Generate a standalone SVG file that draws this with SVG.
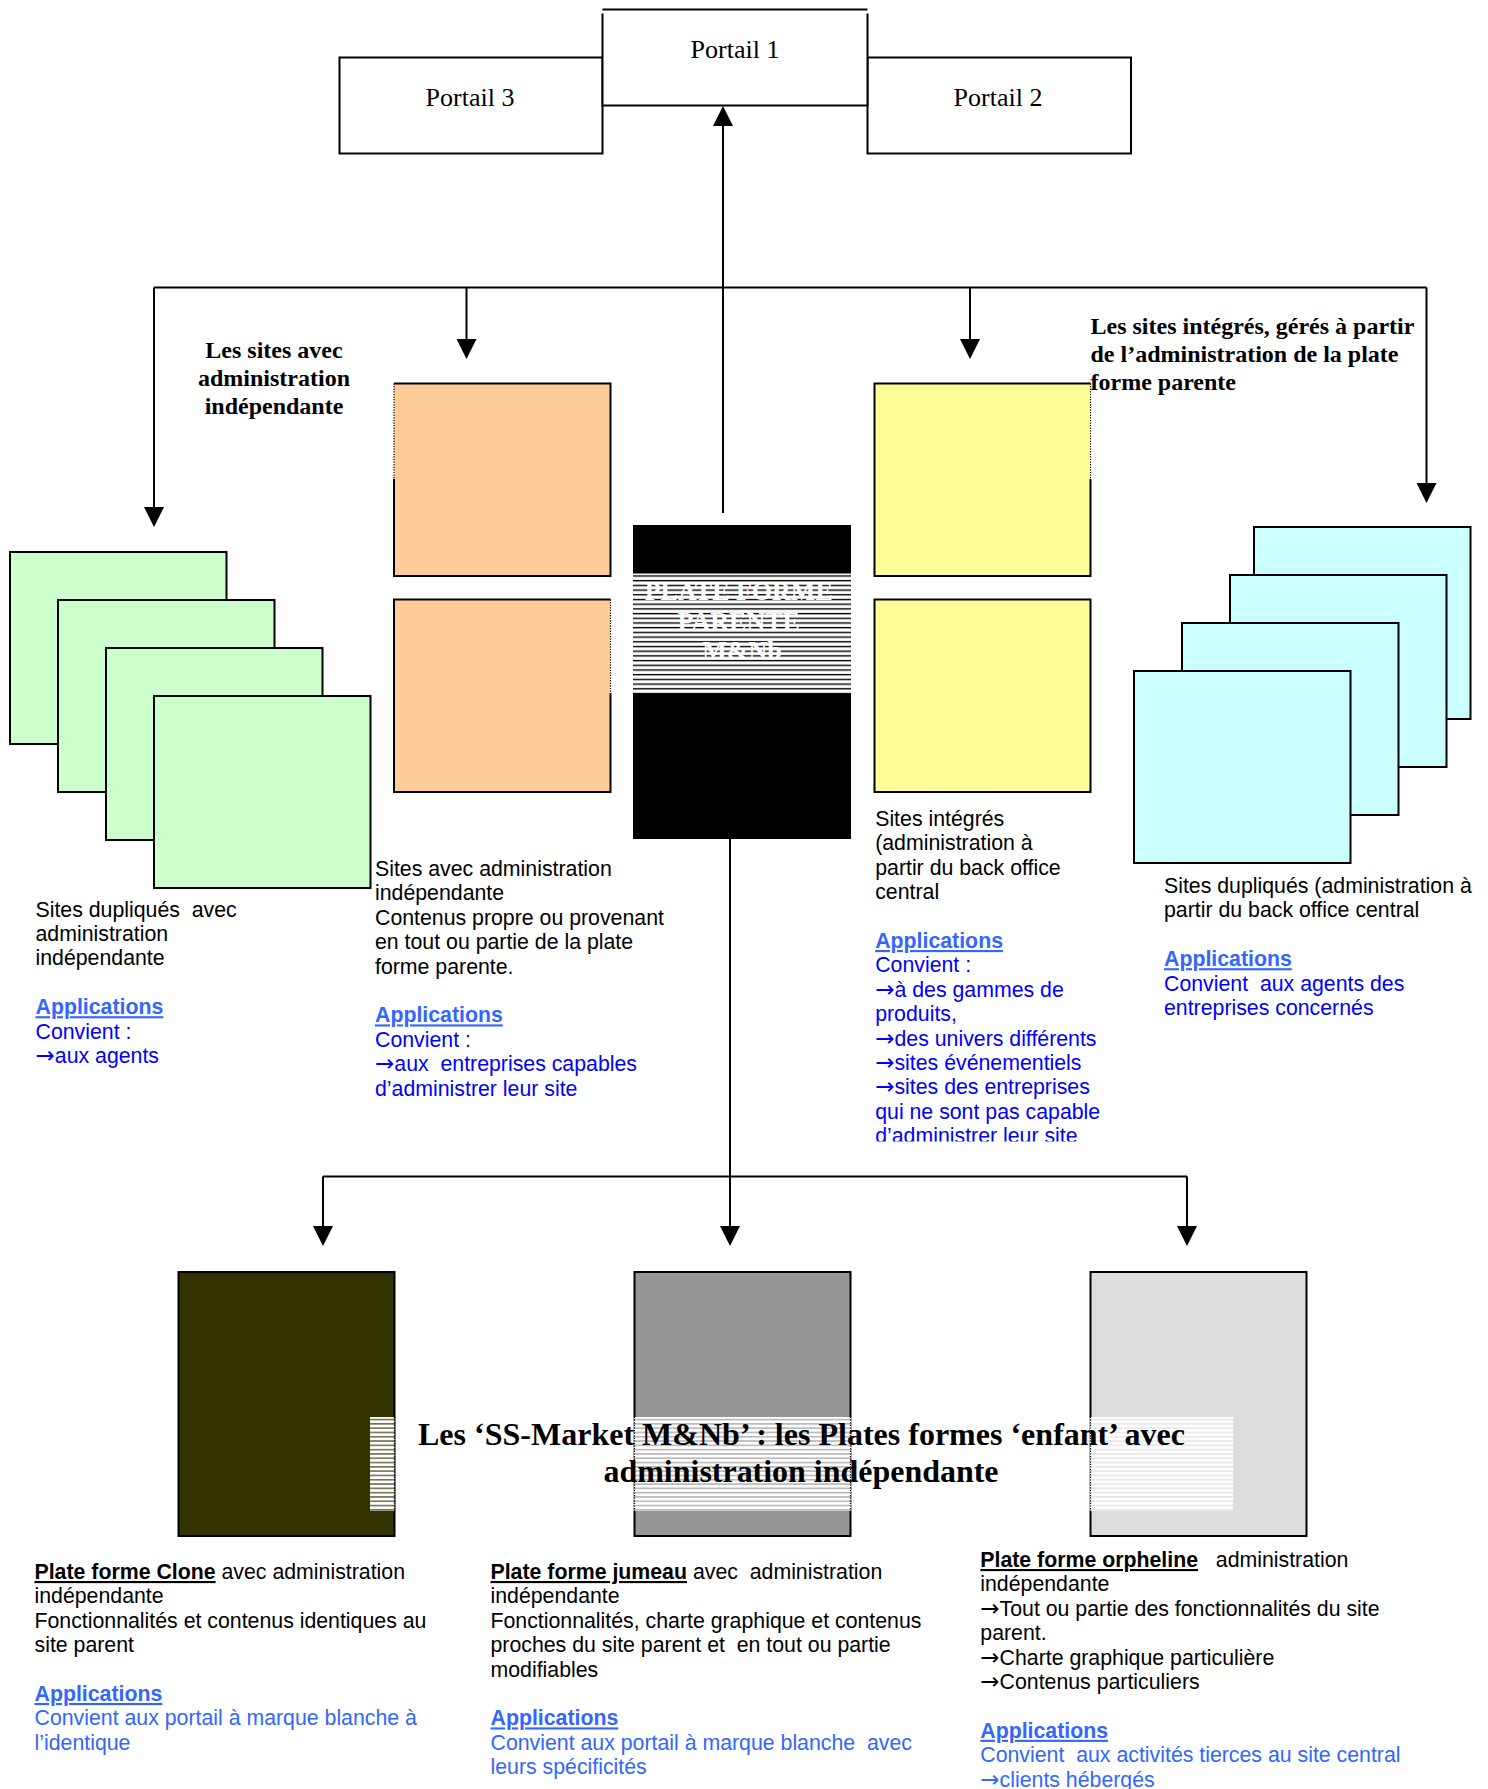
<svg xmlns="http://www.w3.org/2000/svg" width="1488" height="1789" viewBox="0 0 1488 1789">
<defs>
<style>
.box{stroke:#000;stroke-width:2}
.edge{stroke:#000;stroke-width:2;fill:none}
.dot{stroke:#000;stroke-width:1.2;stroke-dasharray:1.2 1.4;fill:none}
.portal{font-family:"Liberation Serif","Times New Roman",serif;font-size:26px;text-anchor:middle;fill:#000}
.heading{font-family:"Liberation Serif","Times New Roman",serif;font-size:24px;font-weight:bold;fill:#000;white-space:pre}
.ptitle{font-family:"Liberation Serif","Times New Roman",serif;font-size:26px;font-weight:bold;fill:#fff;text-anchor:middle}
.big{font-family:"Liberation Serif","Times New Roman",serif;font-size:31.8px;font-weight:bold;fill:#000;white-space:pre}
.sans{font-family:"Liberation Sans",Arial,sans-serif;font-size:21.3px;fill:#000;white-space:pre}
.ar{font-family:"DejaVu Sans",sans-serif;font-size:23px}
.blue{fill:#0000FF}
.lblue{fill:#3366FF}
.app{fill:#3366FF;font-weight:bold;text-decoration:underline}
.bu{font-weight:bold;text-decoration:underline}
.conn{stroke:#000;stroke-width:2;fill:none;marker-end:url(#arr)}
.line{stroke:#000;stroke-width:2;fill:none}
</style>
<marker id="arr" viewBox="0 0 20 20" refX="1" refY="10" markerWidth="20" markerHeight="20" markerUnits="userSpaceOnUse" orient="auto">
<path d="M0,0 L20,10 L0,20 z" fill="#000"/>
</marker>
<pattern id="stBlack" patternUnits="userSpaceOnUse" x="0" y="573.5" width="10" height="4.7">
<rect width="10" height="4.7" fill="#fff"/>
<rect y="1.8" width="10" height="1.4" fill="#000"/>
</pattern>
<pattern id="stOlive" patternUnits="userSpaceOnUse" x="0" y="1417" width="10" height="4.3">
<rect width="10" height="4.3" fill="#fff"/>
<rect y="2" width="10" height="1.1" fill="#333300"/>
</pattern>
<pattern id="stGrey" patternUnits="userSpaceOnUse" x="0" y="1417" width="10" height="4.3">
<rect width="10" height="4.3" fill="#fff"/>
<rect y="2" width="10" height="1.1" fill="#969696"/>
</pattern>
<pattern id="stLight" patternUnits="userSpaceOnUse" x="0" y="1417" width="10" height="4.3">
<rect width="10" height="4.3" fill="#fff"/>
<rect y="2" width="10" height="1.1" fill="#DDDDDD"/>
</pattern>
<clipPath id="clipC"><rect x="860" y="790" width="300" height="351.5"/></clipPath>
</defs>

<rect width="1488" height="1789" fill="#fff"/>

<!-- Portals -->
<g id="portail3">
<rect class="box" x="339.5" y="57.5" width="263" height="96" fill="#fff"/>
<text class="portal" x="470" y="105.5">Portail 3</text>
</g>
<g id="portail2">
<rect class="box" x="867.5" y="57.5" width="263.5" height="96" fill="#fff"/>
<text class="portal" x="998" y="105.5">Portail 2</text>
</g>
<g id="portail1">
<rect x="602.5" y="9.5" width="265" height="96" fill="#fff"/>
<path class="edge" d="M602.5,9.5 H867.5 M602.5,13.5 V105.5 H867.5 V13.5"/>
<text class="portal" x="735" y="58">Portail 1</text>
</g>

<!-- Connectors -->
<g id="connectors">
<path class="conn" d="M723,513 V125"/>
<path class="line" d="M154,287.5 H1426.5"/>
<path class="conn" d="M154,287.5 V508"/>
<path class="conn" d="M466.5,287.5 V340"/>
<path class="conn" d="M970,287.5 V340"/>
<path class="conn" d="M1426.5,287.5 V484"/>
<path class="line" d="M730,839 V1176.5"/>
<path class="line" d="M323,1176.5 H1187"/>
<path class="conn" d="M730,1176.5 V1227"/>
<path class="conn" d="M323,1176.5 V1227"/>
<path class="conn" d="M1187,1176.5 V1227"/>
</g>

<!-- Labels for groups -->
<g id="label-independent">
<text class="heading" text-anchor="middle">
<tspan x="277" y="358">Les sites avec</tspan>
<tspan x="277" y="386">administration</tspan>
<tspan x="277" y="414">indépendante</tspan>
</text>
</g>
<g id="label-integrated">
<text class="heading">
<tspan x="1090.5" y="334">Les sites intégrés, gérés à partir</tspan>
<tspan x="1090.5" y="362">de l’administration de la plate</tspan>
<tspan x="1090.5" y="390">forme parente</tspan>
</text>
</g>

<!-- Green stack -->
<g id="green-stack">
<rect class="box" x="10" y="552" width="216.5" height="192" fill="#CCFFCC"/>
<rect class="box" x="58" y="600" width="216.5" height="192" fill="#CCFFCC"/>
<rect class="box" x="106" y="648" width="216.5" height="192" fill="#CCFFCC"/>
<rect class="box" x="154" y="696" width="216.5" height="192" fill="#CCFFCC"/>
</g>

<!-- Orange boxes -->
<g id="orange-boxes">
<rect x="394" y="383.5" width="216.5" height="192.5" fill="#FFCC99"/>
<path class="edge" d="M394,479 V576 H610.5 V383.5 H394"/>
<path class="dot" d="M394,383.5 V479"/>
<rect x="394" y="599.5" width="216.5" height="192.5" fill="#FFCC99"/>
<path class="edge" d="M610.5,693 V792 H394 V599.5 H610.5"/>
<path class="dot" d="M610.5,599.5 V693"/>
</g>

<!-- Parent platform -->
<g id="parent">
<rect x="633" y="525" width="218" height="314" fill="#000"/>
<rect x="633" y="573.5" width="218" height="120" fill="url(#stBlack)"/>
<text class="ptitle">
<tspan x="742" y="600">PLATE FORME</tspan>
<tspan x="742" y="629.5">PARENTE</tspan>
<tspan x="742" y="659">M&amp;Nb</tspan>
</text>
</g>

<!-- Yellow boxes -->
<g id="yellow-boxes">
<rect x="874.5" y="383.5" width="216" height="192.5" fill="#FFFF99"/>
<path class="edge" d="M1090.5,479 V576 H874.5 V383.5 H1090.5"/>
<path class="dot" d="M1090.5,383.5 V479"/>
<rect class="box" x="874.5" y="599.5" width="216" height="192.5" fill="#FFFF99"/>
</g>

<!-- Cyan stack -->
<g id="cyan-stack">
<rect class="box" x="1254" y="527" width="216.5" height="192" fill="#CCFFFF"/>
<rect class="box" x="1230" y="575" width="216.5" height="192" fill="#CCFFFF"/>
<rect class="box" x="1182" y="623" width="216.5" height="192" fill="#CCFFFF"/>
<rect class="box" x="1134" y="671" width="216.5" height="192" fill="#CCFFFF"/>
</g>

<!-- Text blocks -->
<g id="text-green">
<text class="sans">
<tspan x="35.5" y="916.5">Sites dupliqués  avec</tspan>
<tspan x="35.5" y="941">administration</tspan>
<tspan x="35.5" y="965.4">indépendante</tspan>
<tspan x="35.5" y="1014.2" class="app">Applications</tspan>
<tspan x="35.5" y="1038.6" class="blue">Convient :</tspan>
<tspan x="35.5" y="1063" class="blue"><tspan class="ar">→</tspan>aux agents</tspan>
</text>
</g>
<g id="text-orange">
<text class="sans">
<tspan x="375" y="876">Sites avec administration</tspan>
<tspan x="375" y="900.4">indépendante</tspan>
<tspan x="375" y="924.8">Contenus propre ou provenant</tspan>
<tspan x="375" y="949.2">en tout ou partie de la plate</tspan>
<tspan x="375" y="973.6">forme parente.</tspan>
<tspan x="375" y="1022.4" class="app">Applications</tspan>
<tspan x="375" y="1046.8" class="blue">Convient :</tspan>
<tspan x="375" y="1071.2" class="blue"><tspan class="ar">→</tspan>aux  entreprises capables</tspan>
<tspan x="375" y="1095.6" class="blue">d’administrer leur site</tspan>
</text>
</g>
<g id="text-yellow" clip-path="url(#clipC)">
<text class="sans">
<tspan x="875.2" y="826">Sites intégrés</tspan>
<tspan x="875.2" y="850.4">(administration à</tspan>
<tspan x="875.2" y="874.8">partir du back office</tspan>
<tspan x="875.2" y="899.2">central</tspan>
<tspan x="875.2" y="948" class="app">Applications</tspan>
<tspan x="875.2" y="972.4" class="blue">Convient :</tspan>
<tspan x="875.2" y="996.8" class="blue"><tspan class="ar">→</tspan>à des gammes de</tspan>
<tspan x="875.2" y="1021.2" class="blue">produits,</tspan>
<tspan x="875.2" y="1045.6" class="blue"><tspan class="ar">→</tspan>des univers différents</tspan>
<tspan x="875.2" y="1070" class="blue"><tspan class="ar">→</tspan>sites événementiels</tspan>
<tspan x="875.2" y="1094.4" class="blue"><tspan class="ar">→</tspan>sites des entreprises</tspan>
<tspan x="875.2" y="1118.8" class="blue">qui ne sont pas capable</tspan>
<tspan x="875.2" y="1143.2" class="blue">d’administrer leur site</tspan>
</text>
</g>
<g id="text-cyan">
<text class="sans">
<tspan x="1164" y="893">Sites dupliqués (administration à</tspan>
<tspan x="1164" y="917.4">partir du back office central</tspan>
<tspan x="1164" y="966.2" class="app">Applications</tspan>
<tspan x="1164" y="990.6" class="blue">Convient  aux agents des</tspan>
<tspan x="1164" y="1015" class="blue">entreprises concernés</tspan>
</text>
</g>

<!-- Bottom platforms -->
<g id="clone">
<rect class="box" x="178.5" y="1272" width="216" height="264" fill="#333300"/>
<rect x="370" y="1417" width="24.5" height="94" fill="url(#stOlive)"/>
<path class="dot" d="M394.5,1417 V1511"/>
</g>
<g id="jumeau">
<rect class="box" x="634.5" y="1272" width="216" height="264" fill="#969696"/>
<rect x="633.5" y="1417" width="218" height="94" fill="url(#stGrey)"/>
<path class="dot" d="M634.5,1417 V1511 M850.5,1417 V1511"/>
</g>
<g id="orpheline">
<rect class="box" x="1090.5" y="1272" width="216" height="264" fill="#DDDDDD"/>
<rect x="1089.5" y="1417" width="143.5" height="94" fill="url(#stLight)"/>
<path class="dot" d="M1090.5,1417 V1511"/>
</g>

<g id="title-children">
<text class="big">
<tspan x="418" y="1445" textLength="767" lengthAdjust="spacingAndGlyphs">Les ‘SS-Market M&amp;Nb’ : les Plates formes ‘enfant’ avec</tspan>
<tspan x="603.5" y="1482" textLength="395" lengthAdjust="spacingAndGlyphs">administration indépendante</tspan>
</text>
</g>

<g id="text-clone">
<text class="sans">
<tspan x="34.5" y="1579"><tspan class="bu">Plate forme Clone</tspan> avec administration</tspan>
<tspan x="34.5" y="1603.4">indépendante</tspan>
<tspan x="34.5" y="1627.8">Fonctionnalités et contenus identiques au</tspan>
<tspan x="34.5" y="1652.2">site parent</tspan>
<tspan x="34.5" y="1701" class="app">Applications</tspan>
<tspan x="34.5" y="1725.4" class="lblue">Convient aux portail à marque blanche à</tspan>
<tspan x="34.5" y="1749.8" class="lblue">l’identique</tspan>
</text>
</g>
<g id="text-jumeau">
<text class="sans">
<tspan x="490.5" y="1579"><tspan class="bu">Plate forme jumeau</tspan> avec  administration</tspan>
<tspan x="490.5" y="1603.4">indépendante</tspan>
<tspan x="490.5" y="1627.8">Fonctionnalités, charte graphique et contenus</tspan>
<tspan x="490.5" y="1652.2">proches du site parent et  en tout ou partie</tspan>
<tspan x="490.5" y="1676.6">modifiables</tspan>
<tspan x="490.5" y="1725.4" class="app">Applications</tspan>
<tspan x="490.5" y="1749.8" class="lblue">Convient aux portail à marque blanche  avec</tspan>
<tspan x="490.5" y="1774.2" class="lblue">leurs spécificités</tspan>
</text>
</g>
<g id="text-orpheline">
<text class="sans">
<tspan x="980.3" y="1567"><tspan class="bu">Plate forme orpheline</tspan>   administration</tspan>
<tspan x="980.3" y="1591.4">indépendante</tspan>
<tspan x="980.3" y="1615.8"><tspan class="ar">→</tspan>Tout ou partie des fonctionnalités du site</tspan>
<tspan x="980.3" y="1640.2">parent.</tspan>
<tspan x="980.3" y="1664.6"><tspan class="ar">→</tspan>Charte graphique particulière</tspan>
<tspan x="980.3" y="1689"><tspan class="ar">→</tspan>Contenus particuliers</tspan>
<tspan x="980.3" y="1737.8" class="app">Applications</tspan>
<tspan x="980.3" y="1762.2" class="lblue">Convient  aux activités tierces au site central</tspan>
<tspan x="980.3" y="1786.6" class="lblue"><tspan class="ar">→</tspan>clients hébergés</tspan>
</text>
</g>
</svg>
